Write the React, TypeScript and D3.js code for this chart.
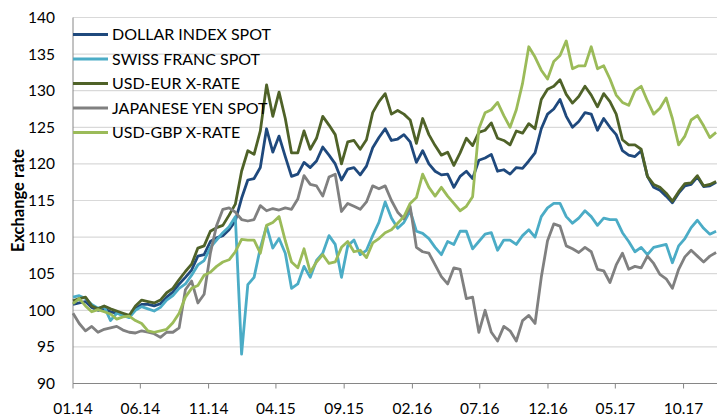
import React, { useRef, useEffect } from 'react';
import * as d3 from 'd3';

// fortnightly readings, first one on 01.01.2014
const startDate = new Date(2014, 0, 1);
const stepDays = 14;

const seriesNames = ['DOLLAR INDEX SPOT', 'SWISS FRANC SPOT', 'USD-EUR X-RATE', 'JAPANESE YEN SPOT', 'USD-GBP X-RATE'];
const seriesColors = ['#1F497D', '#4BACC6', '#4F6228', '#808080', '#9BBB59'];

const dollarIndex = [
  100.8, 101.0, 101.2, 100.4, 100.0, 100.2, 99.8, 99.6, 99.4, 99.1,
  100.2, 100.8, 100.8, 100.6, 100.9, 101.8, 102.5, 103.6, 104.5, 105.5,
  107.4, 107.6, 109.4, 109.9, 110.2, 111.0, 112.2, 115.3, 117.8, 118.0,
  119.5, 124.8, 121.6, 123.8, 121.0, 118.3, 118.6, 120.2, 119.5, 120.4,
  122.3, 121.2, 120.0, 117.8, 119.3, 119.5, 118.5, 119.7, 122.2, 123.6,
  124.8, 123.2, 123.4, 124.0, 123.0, 120.2, 121.8, 120.0, 119.0, 118.5,
  118.6, 116.8, 118.3, 119.0, 118.0, 120.5, 120.8, 121.3, 119.0, 119.2,
  118.6, 119.5, 119.4, 120.4, 121.5, 124.8, 126.8, 127.5, 128.8, 126.5,
  125.0, 125.8, 127.0, 126.8, 124.6, 126.2, 125.0, 124.0, 121.8, 121.2,
  121.0, 121.8, 118.3, 116.8, 116.4, 115.6, 114.7, 116.0, 117.0, 117.2,
  118.2, 116.9, 117.0, 117.5,
];

const swissFranc = [
  101.8, 102.0, 101.6, 100.8, 100.3, 100.5, 98.6, 99.6, 99.3, 99.0,
  100.0, 100.5, 100.2, 99.9, 100.4, 101.4, 102.0, 103.0, 103.6, 104.8,
  106.2, 106.8, 108.6, 109.6, 110.6, 111.4, 112.8, 94.0, 103.5, 104.5,
  108.5, 111.5, 108.5, 109.8, 107.8, 103.0, 103.6, 106.0, 104.5, 106.8,
  107.8, 110.2, 109.0, 104.5, 108.8, 109.6, 107.6, 108.2, 110.2, 112.0,
  114.8, 112.6, 111.2, 112.0, 113.6, 110.8, 110.5, 109.8, 108.6, 107.6,
  109.4, 109.0, 110.8, 110.8, 108.4, 109.4, 110.4, 110.6, 108.2, 109.6,
  109.6, 109.0, 110.2, 111.0, 110.0, 112.8, 114.0, 114.6, 114.6, 112.8,
  111.9, 112.6, 113.6, 112.8, 111.6, 112.6, 112.4, 112.4, 110.6, 109.4,
  108.0, 108.6, 107.6, 108.6, 108.8, 109.0, 106.5, 108.8, 109.8, 111.3,
  112.3, 111.2, 110.4, 110.8,
];

const usdEur = [
  101.3, 101.6, 101.8, 100.6, 100.2, 100.6, 100.2, 99.9, 99.6, 99.3,
  100.6, 101.4, 101.2, 101.0, 101.4, 102.4, 103.0, 104.2, 105.3, 106.3,
  108.5, 108.8, 110.8, 111.3, 111.6, 113.0, 114.5, 119.0, 121.8, 121.3,
  124.5, 130.8, 126.5, 129.8, 126.2, 121.5, 121.5, 124.5, 122.0, 123.5,
  126.5, 125.3, 124.0, 120.0, 123.0, 123.2, 122.0, 123.3, 127.0, 128.5,
  129.6, 126.8, 127.3, 126.8, 126.0, 122.8, 126.2, 124.0, 122.5, 121.2,
  121.6, 119.8, 121.5, 123.5, 122.5, 124.3, 124.6, 125.6, 123.5, 123.2,
  122.6, 124.5, 124.2, 125.5, 124.8, 128.8, 130.2, 130.6, 131.5, 129.5,
  128.3, 129.2, 130.6, 129.4, 127.8, 129.6, 128.5, 126.8, 123.3, 122.6,
  122.6, 122.0, 118.3, 117.2, 116.8, 116.0, 114.9, 116.2, 117.3, 117.4,
  118.4, 117.0, 117.2, 117.6,
];

const japaneseYen = [
  99.6, 98.2, 97.2, 97.8, 97.0, 97.4, 97.6, 97.8, 97.3, 97.0,
  96.9, 97.2, 97.0, 96.8, 96.3, 97.0, 97.0, 97.6, 102.8, 104.0,
  101.0, 102.2, 107.8, 111.6, 113.8, 114.0, 113.4, 112.4, 112.2, 112.4,
  114.3, 113.6, 113.9, 113.7, 114.0, 113.8, 115.2, 118.4, 117.2, 117.0,
  115.6, 118.2, 118.6, 113.5, 114.6, 114.2, 113.8, 114.8, 117.0, 116.6,
  117.0, 115.0, 113.4, 112.5, 114.2, 108.6, 108.0, 107.8, 106.2, 104.6,
  103.6, 105.8, 105.6, 101.6, 101.8, 97.0, 100.0, 97.0, 95.8, 97.8,
  97.2, 95.8, 98.6, 99.3, 98.2, 104.5, 109.5, 111.8, 111.5, 108.8,
  108.4, 107.9, 108.6, 108.0, 105.6, 105.4, 103.8, 106.2, 107.8, 105.6,
  106.0, 105.8, 107.4, 106.4, 104.9, 104.3, 103.0, 105.6, 107.3, 108.2,
  107.4, 106.6, 107.4, 107.9,
];

const usdGbp = [
  100.9, 101.6, 100.6, 99.8, 100.1, 99.8, 99.5, 98.8, 99.1, 99.2,
  98.6, 98.2, 97.2, 97.0, 97.2, 97.4, 98.3, 99.6, 101.8, 103.0,
  103.4, 104.8, 105.2, 106.0, 106.6, 106.9, 108.0, 109.7, 109.6, 109.6,
  107.8, 111.6, 112.0, 112.8, 109.5, 106.6, 105.8, 108.4, 105.2, 106.6,
  107.6, 106.4, 106.6, 108.6, 109.4, 108.0, 108.2, 107.2, 109.2, 109.8,
  110.6, 111.0, 111.9, 112.8, 114.6, 115.4, 118.6, 116.8, 115.6, 116.8,
  115.6, 114.6, 113.6, 114.2, 115.5, 124.8, 127.0, 127.4, 128.4, 126.6,
  125.0, 127.4, 131.0, 136.0, 134.6, 132.8, 131.6, 134.0, 134.8, 136.8,
  133.0, 133.4, 133.4, 136.0, 133.0, 133.4, 131.6, 129.4, 128.4, 128.0,
  130.0, 130.6, 128.6, 126.8, 127.6, 129.0, 126.2, 122.6, 123.8, 126.0,
  126.6, 125.2, 123.6, 124.3,
];

const seriesValues = [dollarIndex, swissFranc, usdEur, japaneseYen, usdGbp];

const yTicks = [90, 95, 100, 105, 110, 115, 120, 125, 130, 135, 140];
const xTickCount = 10; // every 5 months: 01.14 ... 10.17

const font = 'Lato, "Open Sans", sans-serif';

function App() {
  const svgRef = useRef(null);

  useEffect(() => {
    const svg = d3.select(svgRef.current);
    svg.selectAll('*').remove();

    const left = 73;
    const right = 717;
    const top = 17.5;
    const bottom = 383.5;

    const x = d3
      .scaleTime()
      .domain([startDate, new Date(2017, 11, 15)])
      .range([left, right]);

    const y = d3.scaleLinear().domain([90, 140]).range([bottom, top]);

    // gridlines
    svg
      .append('g')
      .selectAll('line')
      .data(yTicks.slice(1))
      .join('line')
      .attr('x1', left)
      .attr('x2', right)
      .attr('y1', (d) => y(d))
      .attr('y2', (d) => y(d))
      .attr('stroke', '#D9D9D9')
      .attr('stroke-width', 1.2);

    // y labels
    svg
      .append('g')
      .selectAll('text')
      .data(yTicks)
      .join('text')
      .attr('x', 55)
      .attr('y', (d) => y(d))
      .attr('dy', '0.36em')
      .attr('text-anchor', 'end')
      .attr('font-family', font)
      .attr('font-size', 15.5)
      .attr('fill', '#000')
      .text((d) => d);

    // axis title
    svg
      .append('text')
      .attr('transform', `translate(18, ${(top + bottom) / 2}) rotate(-90)`)
      .attr('dy', '0.36em')
      .attr('text-anchor', 'middle')
      .attr('font-family', font)
      .attr('font-weight', 'bold')
      .attr('font-size', 16.5)
      .attr('fill', '#000')
      .text('Exchange rate');

    const xTicks = d3.range(xTickCount).map((k) => d3.timeMonth.offset(startDate, k * 5));
    const fmt = d3.timeFormat('%m.%y');

    svg
      .append('g')
      .selectAll('line')
      .data(xTicks)
      .join('line')
      .attr('x1', (d) => x(d))
      .attr('x2', (d) => x(d))
      .attr('y1', bottom)
      .attr('y2', bottom + 5)
      .attr('stroke', '#868686')
      .attr('stroke-width', 1);

    svg
      .append('g')
      .selectAll('text')
      .data(xTicks)
      .join('text')
      .attr('x', (d) => x(d))
      .attr('y', 414)
      .attr('text-anchor', 'middle')
      .attr('font-family', font)
      .attr('font-size', 15.5)
      .attr('fill', '#000')
      .text((d) => fmt(d));

    // axes lines
    svg
      .append('line')
      .attr('x1', left)
      .attr('x2', left)
      .attr('y1', top)
      .attr('y2', bottom)
      .attr('stroke', '#868686');
    svg
      .append('line')
      .attr('x1', left)
      .attr('x2', right)
      .attr('y1', bottom)
      .attr('y2', bottom)
      .attr('stroke', '#868686');

    const line = d3
      .line()
      .x((d, i) => x(d3.timeDay.offset(startDate, i * stepDays)))
      .y((d) => y(d));

    svg
      .append('g')
      .selectAll('path')
      .data(seriesValues)
      .join('path')
      .attr('d', (d) => line(d))
      .attr('fill', 'none')
      .attr('stroke', (d, i) => seriesColors[i])
      .attr('stroke-width', 2.8)
      .attr('stroke-linejoin', 'round');

    // legend
    const legend = svg
      .append('g')
      .selectAll('g')
      .data(seriesNames)
      .join('g')
      .attr('transform', (d, i) => `translate(73, ${34.5 + i * 24.5})`);

    legend
      .append('line')
      .attr('x1', 0)
      .attr('x2', 35)
      .attr('stroke', (d, i) => seriesColors[i])
      .attr('stroke-width', 2.8);

    legend
      .append('text')
      .attr('x', 39)
      .attr('dy', '0.36em')
      .attr('font-family', font)
      .attr('font-size', 16)
      .attr('fill', '#000')
      .text((d) => d);
  }, []);

  return (
    <svg
      ref={svgRef}
      width={717}
      height={416}
      style={{ position: 'absolute', left: 0, top: 0, background: '#fff' }}
    ></svg>
  );
}

export default App;
